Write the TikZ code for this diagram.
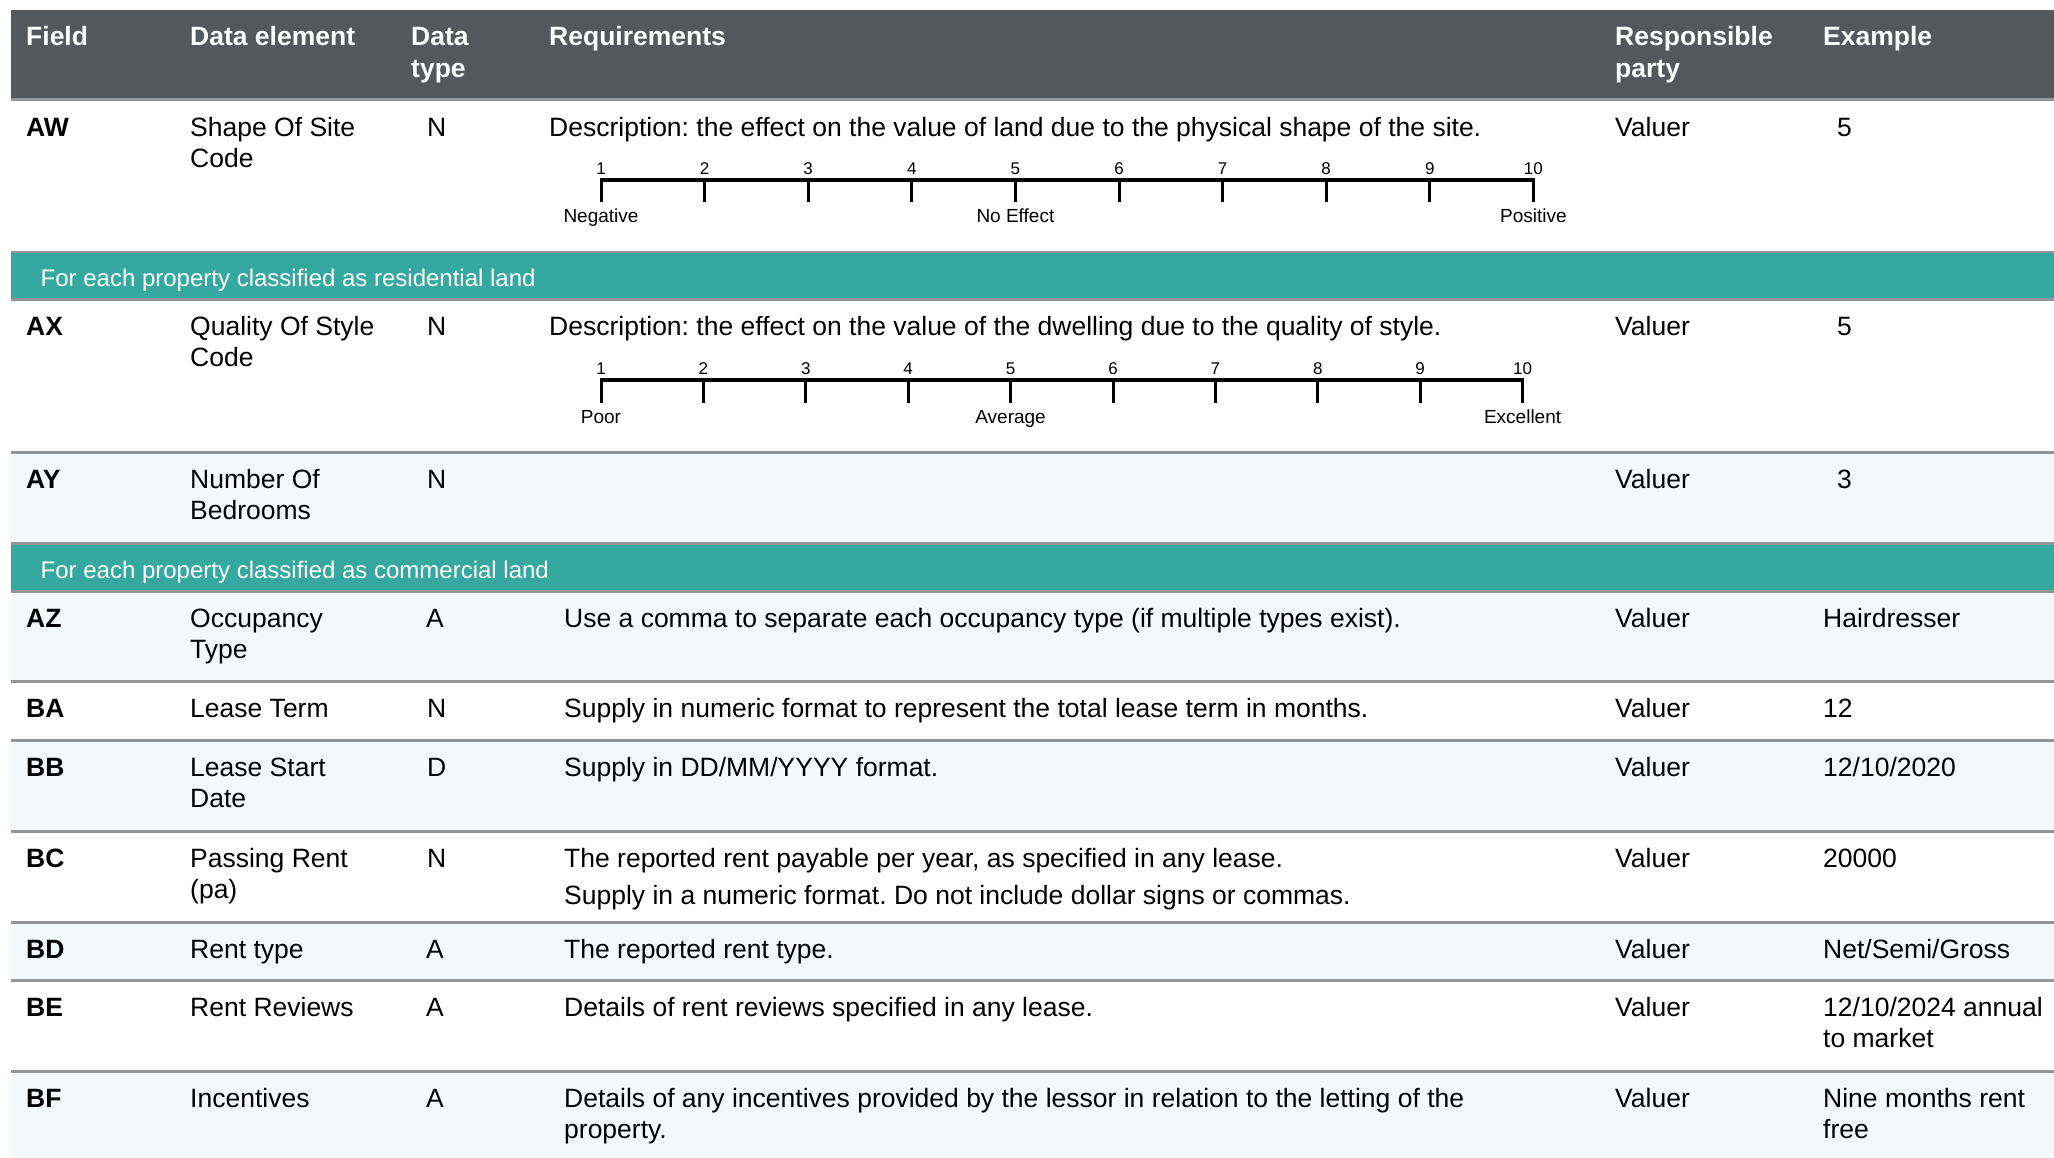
\documentclass[tikz,border=0pt]{standalone}
\usepackage{fontspec}
\setmainfont{Liberation Sans}
\frenchspacing
\definecolor{hdrgray}{RGB}{84,87,92}
\definecolor{sepgray}{RGB}{147,149,152}
\definecolor{tealband}{RGB}{53,169,160}
\definecolor{lightrow}{RGB}{245,248,251}
\begin{document}
\begin{tikzpicture}[x=1pt,y=-1pt,
  txt/.style={anchor=base west, inner sep=0pt, font=\fontsize{26.5}{30}\selectfont, text=black},
  code/.style={txt, font=\fontsize{26.5}{30}\selectfont\bfseries},
  hd/.style={txt, font=\fontsize{26.5}{30}\selectfont\bfseries, text=white},
  band/.style={txt, font=\fontsize{24}{28}\selectfont, text=white},
  num/.style={anchor=base, inner sep=0pt, font=\fontsize{17}{18}\selectfont},
  lab/.style={anchor=base, inner sep=0pt, font=\fontsize{19}{22}\selectfont},
  sepline/.style={fill=sepgray},
  bar/.style={line width=4pt},
  tick/.style={line width=3pt}]
\useasboundingbox (0,0) rectangle (2054,1158);
\fill[white] (0,0) rectangle (2054,1158);
% backgrounds
\fill[hdrgray] (11,10) rectangle (2054,98);
\fill[tealband] (11,253) rectangle (2054,298);
\fill[lightrow] (11,454) rectangle (2054,542);
\fill[tealband] (11,545) rectangle (2054,590);
\fill[lightrow] (11,593) rectangle (2054,680);
\fill[lightrow] (11,742) rectangle (2054,830);
\fill[lightrow] (11,924) rectangle (2054,979);
\fill[lightrow] (11,1073) rectangle (2054,1158);
% separators
\foreach \ya/\yb in {98/101, 251/253, 298/301, 451/454, 542/545, 590/593, 680/683, 739/742, 830/833, 921/924, 979/982, 1070/1073}
  \fill[sepline] (11,\ya) rectangle (2054,\yb);
% scale bars
\draw[bar] (599.5,180) -- (1534.9,180);
\foreach \i in {1,...,10} {
  \pgfmathsetmacro{\xx}{601+(\i-1)*103.6}
  \draw[tick] (\xx,180) -- (\xx,202);
}
\draw[bar] (599.5,380) -- (1524.1,380);
\foreach \i in {1,...,10} {
  \pgfmathsetmacro{\xx}{601+(\i-1)*102.4}
  \draw[tick] (\xx,380) -- (\xx,403);
}
\begin{scope}[yshift=-1.2pt]
% header
\node[hd] (hfield) at (26,44) {Field};
\node[hd] (helem) at (190,44) {Data element};
\node[hd] (htype1) at (411,44) {Data};
\node[hd] (htype2) at (411,76) {type};
\node[hd] (hreq) at (549,44) {Requirements};
\node[hd] (hresp1) at (1615,44) {Responsible};
\node[hd] (hresp2) at (1615,76) {party};
\node[hd] (hex) at (1823,44) {Example};
% AW
\node[code] (aw) at (26,135) {AW};
\node[txt] (awe1) at (190,135) {Shape Of Site};
\node[txt] (awe2) at (190,166.5) {Code};
\node[txt] (awt) at (427,135) {N};
\node[txt] (awr) at (549,135) {Description: the effect on the value of land due to the physical shape of the site.};
\node[txt] (awp) at (1615,135) {Valuer};
\node[txt] (awx) at (1837,135) {5};
\foreach \i in {1,...,10} {
  \pgfmathsetmacro{\xx}{601+(\i-1)*103.6}
  \node[num] (awn\i) at (\xx,173) {\i};
}
\node[lab] (awneg) at (601,221) {Negative};
\node[lab] (awno) at (1015.4,221) {No Effect};
\node[lab] (awpos) at (1533.4,221) {Positive};
% band 1
\node[band] (band1) at (40.5,285) {For each property classified as residential land};
% AX
\node[code] (ax) at (26,334) {AX};
\node[txt] (axe1) at (190,334) {Quality Of Style};
\node[txt] (axe2) at (190,365.5) {Code};
\node[txt] (axt) at (427,334) {N};
\node[txt] (axr) at (549,334) {Description: the effect on the value of the dwelling due to the quality of style.};
\node[txt] (axp) at (1615,334) {Valuer};
\node[txt] (axx) at (1837,334) {5};
\foreach \i in {1,...,10} {
  \pgfmathsetmacro{\xx}{601+(\i-1)*102.4}
  \node[num] (axn\i) at (\xx,373) {\i};
}
\node[lab] (axpoor) at (601,422) {Poor};
\node[lab] (axavg) at (1010.6,422) {Average};
\node[lab] (axexc) at (1522.6,422) {Excellent};
% AY
\node[code] (ay) at (26,487) {AY};
\node[txt] (aye1) at (190,487) {Number Of};
\node[txt] (aye2) at (190,518.5) {Bedrooms};
\node[txt] (ayt) at (427,487) {N};
\node[txt] (ayp) at (1615,487) {Valuer};
\node[txt] (ayx) at (1837,487) {3};
% band 2
\node[band] (band2) at (40.5,577) {For each property classified as commercial land};
% AZ
\node[code] (az) at (26,626) {AZ};
\node[txt] (aze1) at (190,626) {Occupancy};
\node[txt] (aze2) at (190,657.5) {Type};
\node[txt] (azt) at (426,626) {A};
\node[txt] (azr) at (564,626) {Use a comma to separate each occupancy type (if multiple types exist).};
\node[txt] (azp) at (1615,626) {Valuer};
\node[txt] (azx) at (1823,626) {Hairdresser};
% BA
\node[code] (ba) at (26,716.5) {BA};
\node[txt] (bae) at (190,716.5) {Lease Term};
\node[txt] (bat) at (427,716.5) {N};
\node[txt] (bar) at (564,716.5) {Supply in numeric format to represent the total lease term in months.};
\node[txt] (bap) at (1615,716.5) {Valuer};
\node[txt] (bax) at (1823,716.5) {12};
% BB
\node[code] (bb) at (26,775) {BB};
\node[txt] (bbe1) at (190,775) {Lease Start};
\node[txt] (bbe2) at (190,806.5) {Date};
\node[txt] (bbt) at (427,775) {D};
\node[txt] (bbr) at (564,775) {Supply in DD/MM/YYYY format.};
\node[txt] (bbp) at (1615,775) {Valuer};
\node[txt] (bbx) at (1823,775) {12/10/2020};
% BC
\node[code] (bc) at (26,866) {BC};
\node[txt] (bce1) at (190,866) {Passing Rent};
\node[txt] (bce2) at (190,897.5) {(pa)};
\node[txt] (bct) at (427,866) {N};
\node[txt] (bcr1) at (564,866) {The reported rent payable per year, as specified in any lease.};
\node[txt] (bcr2) at (564,903) {Supply in a numeric format. Do not include dollar signs or commas.};
\node[txt] (bcp) at (1615,866) {Valuer};
\node[txt] (bcx) at (1823,866) {20000};
% BD
\node[code] (bd) at (26,957) {BD};
\node[txt] (bde) at (190,957) {Rent type};
\node[txt] (bdt) at (426,957) {A};
\node[txt] (bdr) at (564,957) {The reported rent type.};
\node[txt] (bdp) at (1615,957) {Valuer};
\node[txt] (bdx) at (1823,957) {Net/Semi/Gross};
% BE
\node[code] (be) at (26,1015) {BE};
\node[txt] (bee) at (190,1015) {Rent Reviews};
\node[txt] (bet) at (426,1015) {A};
\node[txt] (ber) at (564,1015) {Details of rent reviews specified in any lease.};
\node[txt] (bep) at (1615,1015) {Valuer};
\node[txt] (bex1) at (1823,1015) {12/10/2024 annual};
\node[txt] (bex2) at (1823,1046.5) {to market};
% BF
\node[code] (bf) at (26,1106) {BF};
\node[txt] (bfe) at (190,1106) {Incentives};
\node[txt] (bft) at (426,1106) {A};
\node[txt] (bfr1) at (564,1106) {Details of any incentives provided by the lessor in relation to the letting of the};
\node[txt] (bfr2) at (564,1137.5) {property.};
\node[txt] (bfp) at (1615,1106) {Valuer};
\node[txt] (bfx1) at (1823,1106) {Nine months rent};
\node[txt] (bfx2) at (1823,1137.5) {free};
\end{scope}
\end{tikzpicture}
\end{document}
